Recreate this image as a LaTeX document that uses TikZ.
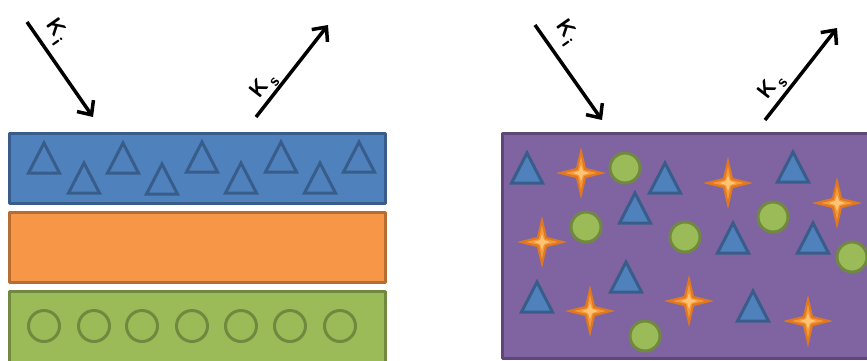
\documentclass[tikz,border=0pt]{standalone}
\usetikzlibrary{arrows.meta}
\definecolor{blueF}{HTML}{4F81BD}
\definecolor{blueD}{HTML}{385D8A}
\definecolor{orangeF}{HTML}{F79646}
\definecolor{orangeD}{HTML}{B66D31}
\definecolor{greenF}{HTML}{9BBB59}
\definecolor{greenD}{HTML}{71893F}
\definecolor{purpleF}{HTML}{8064A2}
\definecolor{purpleD}{HTML}{5C4776}
\definecolor{starO}{HTML}{E0781F}
\definecolor{starM}{HTML}{F39A3C}
\definecolor{starL}{HTML}{FFC473}
\newcommand\klabel[1]{K\kern2pt\raisebox{-6pt}{\fontsize{17}{17}\selectfont #1}}
\tikzset{
  layer/.style={line width=3pt,line join=round},
  tri/.pic={\path[pic actions] (0,0) -- (15.5,30) -- (-15.5,30) -- cycle;},
  trio/.style={draw=blueD,line width=3pt,line join=miter},
  trif/.style={draw=blueD,fill=blueF,line width=3pt,line join=miter},
  circo/.style={draw=greenD,line width=3pt},
  circf/.style={draw=greenD,fill=greenF,line width=3pt},
  starp/.pic={
    \fill[starO] (-25,0) -- (-5,-5) -- (0,-26) -- (5,-5) -- (25,0) -- (5,5) -- (0,26) -- (-5,5) -- cycle;
    \fill[starM] (-16,0) -- (-3,-3) -- (0,-17) -- (3,-3) -- (16,0) -- (3,3) -- (0,17) -- (-3,3) -- cycle;
    \fill[starL] (-8,0) -- (-2,-2) -- (0,-8) -- (2,-2) -- (8,0) -- (2,2) -- (0,8) -- (-2,2) -- cycle;},
  arr/.style={line width=3.5pt,-{Straight Barb[length=11pt,width=20pt]}},
  klab/.style={font=\sffamily\bfseries\fontsize{22}{22}\selectfont,inner sep=0pt}
}
\begin{document}
\begin{tikzpicture}[x=1pt,y=-1pt]
\useasboundingbox (0,0) rectangle (867,360);
\clip (0,0) rectangle (867,360);
% ---------- left panel ----------
\draw[layer,draw=blueD,fill=blueF] (9,133) rectangle (385,203);
\draw[layer,draw=orangeD,fill=orangeF] (9,212) rectangle (385,282);
\draw[layer,draw=greenD,fill=greenF] (9,291) rectangle (385,362);
\foreach \x/\y in {44/143,84/163,123/143,162/164,202/142,241/163,281/142,320/163,359/142}
  \pic[trio] at (\x,\y) {tri};
\foreach \x in {44,94,142,192,241,290,340}
  \draw[circo] (\x,326) circle (15.5);
% arrows left
\coordinate (kiA1) at (27,22);
\coordinate (kiB1) at (93,117);
\coordinate (ksA1) at (256,117);
\coordinate (ksB1) at (328,25);
\draw[arr] (kiA1) -- (kiB1);
\draw[arr] (ksA1) -- (ksB1);
\node[klab,rotate=-55] (ki1) at (56,31) {\klabel{i}};
\node[klab,rotate=52] (ks1) at (264,86) {\klabel{s}};
% ---------- right panel ----------
\draw[layer,draw=purpleD,fill=purpleF] (502,133) rectangle (880,358);
\foreach \x/\y in {527/153,665/163,793/152,635/193,733/223,813/223,626/262,537/282,753/291}
  \pic[trif] at (\x,\y) {tri};
\foreach \x/\y in {625/168,586/227,685/237,773/217,852/257,645/336}
  \draw[circf] (\x,\y) circle (15);
\foreach \x/\y in {581/173,728/183,837/203,542/242,590/311,689/301,808/321}
  \pic at (\x,\y) {starp};
% arrows right
\coordinate (kiA2) at (535,25);
\coordinate (kiB2) at (602,120);
\coordinate (ksA2) at (765,120);
\coordinate (ksB2) at (837,28);
\draw[arr] (kiA2) -- (kiB2);
\draw[arr] (ksA2) -- (ksB2);
\node[klab,rotate=-55] (ki2) at (566,32) {\klabel{i}};
\node[klab,rotate=52] (ks2) at (772,87) {\klabel{s}};
\end{tikzpicture}
\end{document}
